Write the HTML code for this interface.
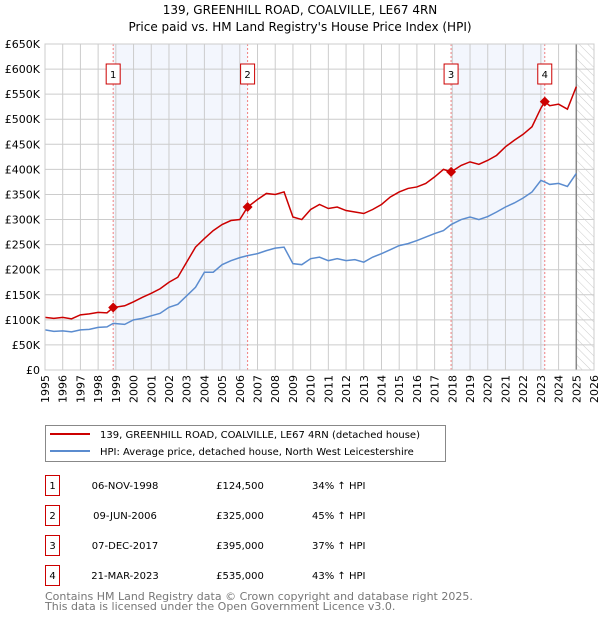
<!DOCTYPE html>
<html><head><meta charset="utf-8"><style>
body{margin:0;background:#fff;font-family:"Liberation Sans","DejaVu Sans",sans-serif;}
svg text{font-family:"DejaVu Sans","Liberation Sans",sans-serif;}
</style></head><body>
<svg id="c" width="600" height="620" xmlns="http://www.w3.org/2000/svg">
<defs><pattern id="hatch" width="6" height="6" patternUnits="userSpaceOnUse" patternTransform="rotate(-45)"><line x1="0" y1="0" x2="0" y2="6" stroke="#ccc" stroke-width="1"/></pattern></defs>
<text x="300" y="14" text-anchor="middle" font-size="12">139, GREENHILL ROAD, COALVILLE, LE67 4RN</text>
<text x="300" y="31" text-anchor="middle" font-size="12">Price paid vs. HM Land Registry's House Price Index (HPI)</text>
<g id="plot"></g>
<g>
<rect x="45.5" y="425.5" width="400" height="36" fill="#fff" stroke="#888"/>
<line x1="50" y1="434" x2="90" y2="434" stroke="#cc0000" stroke-width="2"/>
<text x="100" y="438" font-size="10">139, GREENHILL ROAD, COALVILLE, LE67 4RN (detached house)</text>
<line x1="50" y1="451" x2="90" y2="451" stroke="#5b8ccf" stroke-width="2"/>
<text x="100" y="455" font-size="10">HPI: Average price, detached house, North West Leicestershire</text>
</g>
<g id="table" font-size="10"></g>
<text x="45" y="600" font-size="11" fill="#777">Contains HM Land Registry data © Crown copyright and database right 2025.</text>
<text x="45" y="610" font-size="11" fill="#777">This data is licensed under the Open Government Licence v3.0.</text>
</svg>
<script>
const yTicks=[0,50,100,150,200,250,300,350,400,450,500,550,600,650];
const yTickLabels=["£0","£50K","£100K","£150K","£200K","£250K","£300K","£350K","£400K","£450K","£500K","£550K","£600K","£650K"];
const xYears=[1995,1996,1997,1998,1999,2000,2001,2002,2003,2004,2005,2006,2007,2008,2009,2010,2011,2012,2013,2014,2015,2016,2017,2018,2019,2020,2021,2022,2023,2024,2025,2026];
const saleDates=[1998.85,2006.44,2017.93,2023.22];
const salePrices=[124.5,325,395,535];
const saleLabels=["06-NOV-1998","09-JUN-2006","07-DEC-2017","21-MAR-2023"];
const salePriceText=["£124,500","£325,000","£395,000","£535,000"];
const saleHpiText=["34% ↑ HPI","45% ↑ HPI","37% ↑ HPI","43% ↑ HPI"];
const seriesT=[1995,1995.5,1996,1996.5,1997,1997.5,1998,1998.5,1998.85,1999.5,2000,2000.5,2001,2001.5,2002,2002.5,2003,2003.5,2004,2004.5,2005,2005.5,2006,2006.44,2007,2007.5,2008,2008.5,2009,2009.5,2010,2010.5,2011,2011.5,2012,2012.5,2013,2013.5,2014,2014.5,2015,2015.5,2016,2016.5,2017,2017.5,2017.93,2018.5,2019,2019.5,2020,2020.5,2021,2021.5,2022,2022.5,2023,2023.22,2023.5,2024,2024.5,2025];
const hpiValues=[80,77,78,76,80,81,85,86,93,91,100,103,108,113,125,131,148,165,195,195,210,218,224,228,232,238,243,245,212,210,222,225,218,222,218,220,215,225,232,240,248,252,258,265,272,278,290,300,305,300,306,315,325,333,343,355,378,375,370,372,366,392];
const propValues=[105,103,105,102,110,112,115,114,124.5,128,136,145,153,162,175,185,215,245,262,278,290,298,300,325,340,352,350,355,305,300,320,330,322,325,318,315,312,320,330,345,355,362,365,372,385,400,395,408,415,410,418,428,445,458,470,485,522,535,527,530,520,565];
const X0=45,X1=594,Y0=370,Y1=44;
const xs=t=>X0+(t-1995)*(X1-X0)/31;
const ys=v=>Y0-(v-0)*(Y0-Y1)/650;
const NS="http://www.w3.org/2000/svg";
const plot=document.getElementById('plot');
function mk(tag,attrs,parent){const e=document.createElementNS(NS,tag);for(const k in attrs)e.setAttribute(k,attrs[k]);(parent||plot).appendChild(e);return e;}
mk('rect',{x:X0,y:Y1,width:X1-X0,height:Y0-Y1,fill:'#fff'});
for(const [a,b] of [[saleDates[0],saleDates[1]],[saleDates[2],saleDates[3]]]){
 const r=mk('rect',{x:xs(a),y:Y1,width:xs(b)-xs(a),height:Y0-Y1,fill:'#f3f6fd'});
 
 
}
const hr=mk('rect',{x:xs(2025),y:Y1,width:X1-xs(2025),height:Y0-Y1,fill:'url(#hatch)'});


yTicks.forEach((v,i)=>{
 mk('line',{x1:X0,x2:X1,y1:ys(v),y2:ys(v),stroke:'#ccc','stroke-width':1});
 const t=mk('text',{x:X0-5,y:ys(v)+4,'text-anchor':'end','font-size':11});
 t.textContent=yTickLabels[i];
 
 
});
xYears.forEach(yr=>{
 mk('line',{x1:xs(yr),x2:xs(yr),y1:Y1,y2:Y0,stroke:'#ccc','stroke-width':1});
 const t=mk('text',{x:0,y:0,'text-anchor':'end','font-size':11,transform:`translate(${xs(yr)+4},${Y0+5}) rotate(-90)`});
 t.textContent=yr;
 
 
});
mk('line',{x1:xs(2025),x2:xs(2025),y1:Y1,y2:Y0,stroke:'#888','stroke-width':1.5});
saleDates.forEach((d,i)=>{
 mk('line',{x1:xs(d),x2:xs(d),y1:Y1,y2:Y0,stroke:'#f08080','stroke-width':1,'stroke-dasharray':'2,2'});
 const g=mk('g',{});
 
 
 mk('rect',{x:xs(d)-7,y:64,width:14,height:20,fill:'#fff',stroke:'#cc0000'},g);
 const t=mk('text',{x:xs(d),y:78,'text-anchor':'middle','font-size':10},g);t.textContent=i+1;
});
function line(vals,color,name){
 const p=mk('polyline',{points:seriesT.map((t,i)=>xs(t)+','+ys(vals[i])).join(' '),fill:'none',stroke:color,'stroke-width':1.5});
 
 
}
line(hpiValues,'#5b8ccf','hpi-line');
line(propValues,'#cc0000','property-price-line');
saleDates.forEach((d,i)=>{
 const x=xs(d),y=ys(salePrices[i]);
 const p=mk('polygon',{points:`${x},${y-5} ${x+5},${y} ${x},${y+5} ${x-5},${y}`,fill:'#cc0000'});
 
 
});
mk('rect',{x:X0,y:Y1,width:X1-X0,height:Y0-Y1,fill:'none',stroke:'#ccc'});
const tb=document.getElementById('table');
saleDates.forEach((d,i)=>{
 const y=475+i*30;
 const g=mk('g',{},tb);
 
 
 mk('rect',{x:45.5,y:y+0.5,width:14,height:20,fill:'#fff',stroke:'#cc0000'},g);
 const n=mk('text',{x:52.5,y:y+14,'text-anchor':'middle'},g);n.textContent=i+1;
 const a=mk('text',{x:125,y:y+14,'text-anchor':'middle'},g);a.textContent=saleLabels[i];
 const b=mk('text',{x:240,y:y+14,'text-anchor':'middle'},g);b.textContent=salePriceText[i];
 const c=mk('text',{x:312,y:y+14},g);c.textContent=saleHpiText[i];
});
</script>
</body></html>
